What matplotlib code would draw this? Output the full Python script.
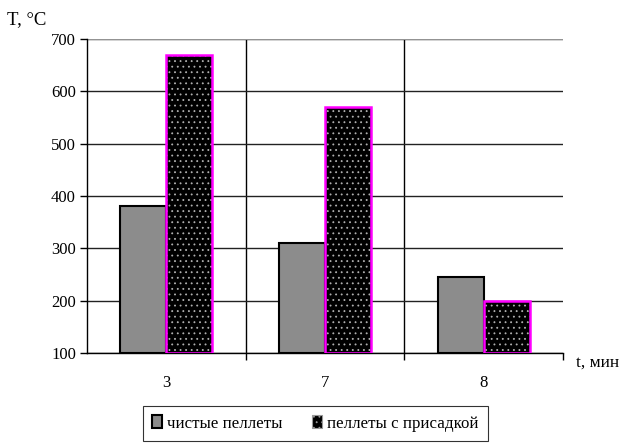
import numpy as np
import matplotlib.pyplot as plt
from matplotlib.ticker import FixedLocator

plt.rcParams['font.family'] = ['Liberation Serif', 'DejaVu Serif']
plt.rcParams['hatch.linewidth'] = 0.6

### data
t_min = ['3', '7', '8']
T_clean = np.array([380, 310, 245])     # [°C] чистые пеллеты
T_additive = np.array([670, 570, 200])  # [°C] пеллеты с присадкой

### plot
fig = plt.figure(figsize=(6.23, 4.45), dpi=100)
ax = fig.add_axes([0.1396, 0.2067, 0.764, 0.7056])

x = np.arange(len(t_min))
w = 0.29

ax.bar(x - w/2, T_clean - 100, w, bottom=100, color='#8c8c8c',
       edgecolor='black', linewidth=1.5, label='чистые пеллеты', zorder=3)
# dotted fill first, magenta frame on top
ax.bar(x + w/2, T_additive - 100, w, bottom=100, color='black',
       edgecolor='#b0b0b0', hatch='...', linewidth=0, zorder=3)
ax.bar(x + w/2, T_additive - 100, w, bottom=100, fill=False,
       edgecolor='#ff00ff', linewidth=1.8, zorder=4)
h2 = plt.Rectangle((0, 0), 1, 1, facecolor='black', edgecolor='#999999',
                   hatch='...', linewidth=0.8)

ax.set_xlim(-0.5, 2.5)
ax.set_ylim(100, 700)
ax.set_yticks(np.arange(100, 701, 100))
ax.set_xticks(x)
ax.set_xticklabels(t_min)
ax.xaxis.set_minor_locator(FixedLocator([0.5, 1.5, 2.5]))
ax.tick_params(axis='x', which='major', length=0, pad=16, labelsize=12)
ax.tick_params(axis='x', which='minor', length=5, width=1)
ax.tick_params(axis='y', length=5, width=1, labelsize=12, pad=3)

ax.yaxis.grid(True, color='#222222', linewidth=1)
for b in [0.5, 1.5]:
    ax.axvline(b, color='black', linewidth=1, zorder=1)

for s in ['top', 'right']:
    ax.spines[s].set_visible(False)
ax.axhline(700, color='#aaaaaa', linewidth=1.2, zorder=2)
ax.spines['left'].set_linewidth(1)
ax.spines['bottom'].set_linewidth(1)

fig.text(0.012, 0.955, 'T, °C', fontsize=13.5, ha='left', va='center')
fig.text(0.924, 0.184, 't, мин', fontsize=12.5, ha='left', va='center')

handles = [ax.patches[0], h2]
leg = fig.legend(handles, ['чистые пеллеты', 'пеллеты с присадкой'],
                 loc='center', bbox_to_anchor=(0.506, 0.048), ncol=2,
                 frameon=True, fancybox=False, edgecolor='black',
                 fontsize=12.2, handlelength=0.6, handleheight=0.8,
                 handletextpad=0.3, columnspacing=1.7, borderpad=0.55)
leg.get_frame().set_linewidth(0.8)

fig.savefig('out.png', dpi=100)
